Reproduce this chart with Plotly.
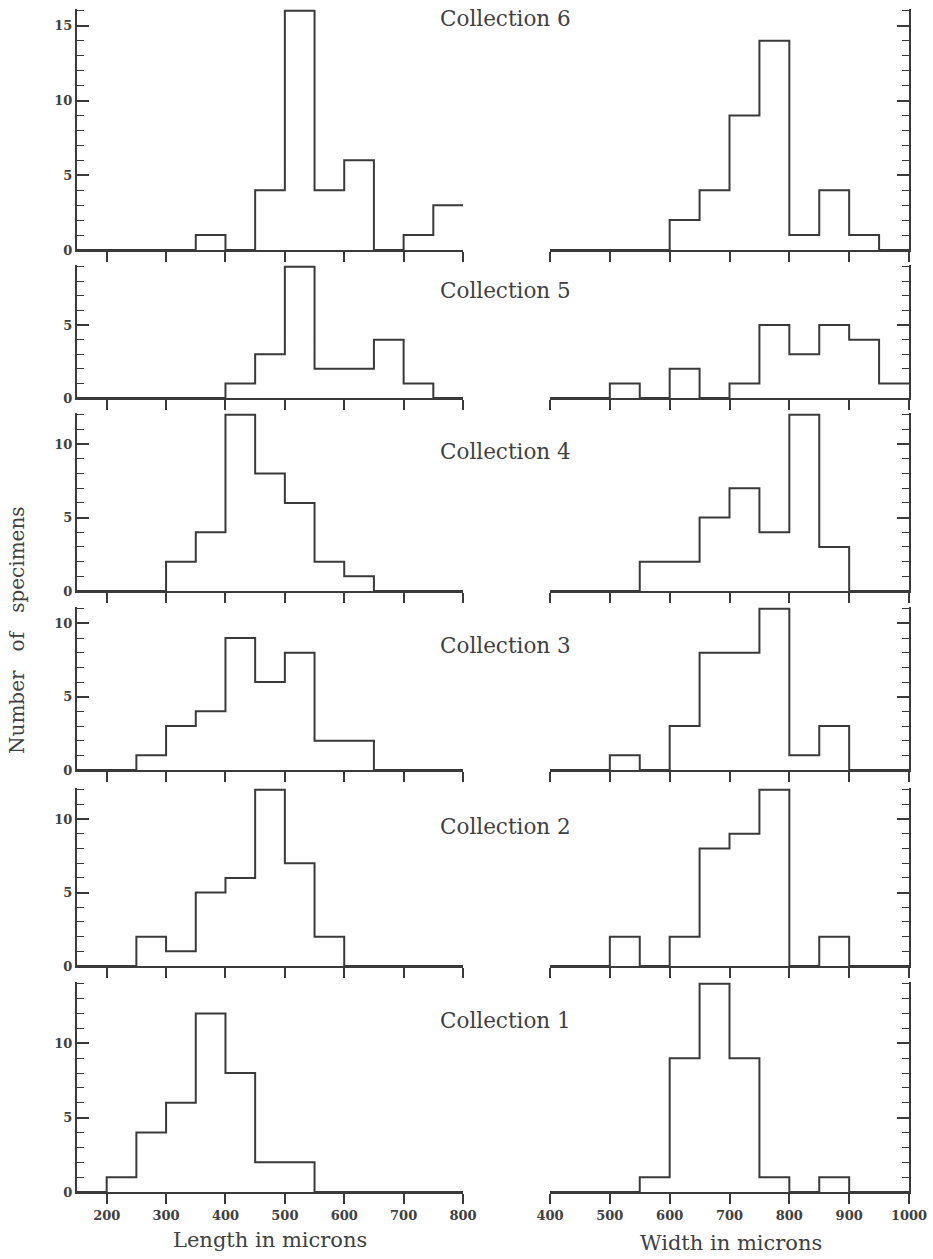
import plotly.graph_objects as go

# Bin edges (microns) and specimen counts per bin, Collection 6 down to Collection 1
length_edges = [150, 200, 250, 300, 350, 400, 450, 500, 550, 600, 650, 700, 750, 800]
width_edges = [400, 450, 500, 550, 600, 650, 700, 750, 800, 850, 900, 950, 1000]

collections = ["Collection 6", "Collection 5", "Collection 4",
               "Collection 3", "Collection 2", "Collection 1"]

length_6 = [0, 0, 0, 0, 1, 0, 4, 16, 4, 6, 0, 1, 3]
length_5 = [0, 0, 0, 0, 0, 1, 3, 9, 2, 2, 4, 1, 0]
length_4 = [0, 0, 0, 2, 4, 12, 8, 6, 2, 1, 0, 0, 0]
length_3 = [0, 0, 1, 3, 4, 9, 6, 8, 2, 2, 0, 0, 0]
length_2 = [0, 0, 2, 1, 5, 6, 12, 7, 2, 0, 0, 0, 0]
length_1 = [0, 1, 4, 6, 12, 8, 2, 2, 0, 0, 0, 0, 0]

width_6 = [0, 0, 0, 0, 2, 4, 9, 14, 1, 4, 1, 0]
width_5 = [0, 0, 1, 0, 2, 0, 1, 5, 3, 5, 4, 1]
width_4 = [0, 0, 0, 2, 2, 5, 7, 4, 12, 3, 0, 0]
width_3 = [0, 0, 1, 0, 3, 8, 8, 11, 1, 3, 0, 0]
width_2 = [0, 0, 2, 0, 2, 8, 9, 12, 0, 2, 0, 0]
width_1 = [0, 0, 0, 1, 9, 14, 9, 1, 0, 1, 0, 0]

lengths = [length_6, length_5, length_4, length_3, length_2, length_1]
widths = [width_6, width_5, width_4, width_3, width_2, width_1]
y_max = [16, 9, 12, 11, 12, 14]

length_ticks = [200, 300, 400, 500, 600, 700, 800]
width_ticks = [400, 500, 600, 700, 800, 900, 1000]

W, H = 933, 1259
INK = "#3a3a3a"
TXT = "#404040"
SERIF = "DejaVu Serif, Liberation Serif, serif"

# pixel placement of each row: (top, zero line)
row_px = [(9, 250), (265, 398), (413, 591), (607, 770), (788, 966), (982, 1192)]
left_px = (77, 463)
right_px = (550, 909)


def step_xy(edges, counts):
    xs = list(edges)
    ys = list(counts) + [counts[-1]]
    return xs, ys


fig = go.Figure()
layout = dict(
    width=W, height=H,
    margin=dict(l=0, r=0, t=0, b=0),
    paper_bgcolor="white", plot_bgcolor="white",
    showlegend=False,
    font=dict(family=SERIF, color=TXT),
)

for i in range(6):
    top, zero = row_px[i]
    ydom = [1 - zero / H, 1 - top / H]
    last = i == 5
    ymx = y_max[i]
    major = [v for v in (0, 5, 10, 15) if v <= ymx]

    for side, (edges, data, px, ticks) in enumerate([
        (length_edges, lengths[i], left_px, length_ticks),
        (width_edges, widths[i], right_px, width_ticks),
    ]):
        n = 2 * i + side + 1
        xa = "xaxis" if n == 1 else f"xaxis{n}"
        ya = "yaxis" if n == 1 else f"yaxis{n}"
        xr = "x" if n == 1 else f"x{n}"
        yr = "y" if n == 1 else f"y{n}"

        xs, ys = step_xy(edges, data)
        fig.add_trace(go.Scatter(
            x=xs, y=ys, mode="lines", line_shape="hv",
            line=dict(color=INK, width=2),
            xaxis=xr, yaxis=yr, hoverinfo="skip",
        ))

        layout[xa] = dict(
            domain=[px[0] / W, px[1] / W],
            range=[edges[0], edges[-1]],
            anchor=yr, automargin=False,
            showline=True, linecolor=INK, linewidth=2,
            showgrid=False, zeroline=False,
            ticks="outside", ticklen=10, tickwidth=1.5, tickcolor=INK,
            tickvals=ticks,
            showticklabels=last,
            tickfont=dict(family=SERIF, size=13, color=TXT, weight="bold"),
        )
        layout[ya] = dict(
            domain=ydom,
            range=[0, ymx + 0.12],
            anchor=xr, automargin=False,
            side="left" if side == 0 else "right",
            showline=True, linecolor=INK, linewidth=2,
            showgrid=False, zeroline=False,
            ticks="inside", ticklen=12, tickwidth=1.5, tickcolor=INK,
            tickvals=major,
            showticklabels=(side == 0),
            tickfont=dict(family=SERIF, size=13, color=TXT, weight="bold"),
            minor=dict(ticks="inside", ticklen=7, tickwidth=1.2,
                       tickcolor=INK, dtick=1, tick0=0, showgrid=False),
        )


def note(text, xpx, ypx, size, angle=0):
    return dict(
        text=text, x=xpx / W, y=1 - ypx / H, xref="paper", yref="paper",
        xanchor="center", yanchor="middle", showarrow=False, textangle=angle,
        font=dict(family=SERIF, size=size, color=TXT),
    )


annotations = []
label_y = [18, 290, 452, 645, 826, 1020]
for name, ypx in zip(collections, label_y):
    annotations.append(note(name, 506, ypx, 21.5))

# axis titles
gap = "\u00a0\u00a0\u00a0"
annotations.append(note("Length in microns", 270, 1240, 21))
annotations.append(note("Width in microns", 731, 1243, 21))
annotations.append(note(f"Number{gap}of{gap}specimens", 17, 630, 20, angle=-90))

layout["annotations"] = annotations

fig.update_layout(**layout)
fig.write_html("out.html")
